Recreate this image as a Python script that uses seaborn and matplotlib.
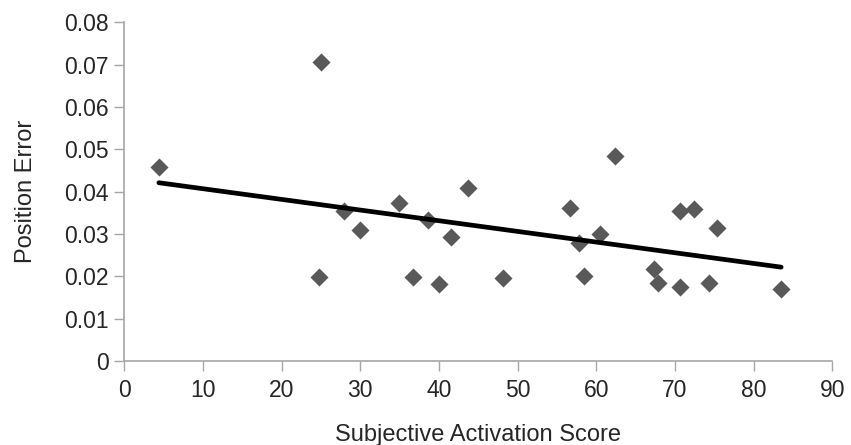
import matplotlib
matplotlib.use("Agg")
import matplotlib.pyplot as plt
import seaborn as sns
import pandas as pd
import numpy as np

# values
activation = [4.4, 25.0, 24.7, 27.9, 30.0, 34.9, 36.7, 38.6, 40.0, 41.5,
              43.7, 48.2, 56.7, 57.8, 58.4, 60.5, 62.4, 67.4, 67.9, 70.7,
              70.7, 72.4, 74.3, 75.4, 83.5]
pos_error = [0.0459, 0.0705, 0.0199, 0.0355, 0.0309, 0.0374, 0.0199, 0.0333,
             0.0181, 0.0292, 0.0409, 0.0195, 0.0361, 0.0278, 0.0201, 0.0299,
             0.0485, 0.0217, 0.0183, 0.0354, 0.0174, 0.0359, 0.0183, 0.0315,
             0.0169]
x_ticks = [0, 10, 20, 30, 40, 50, 60, 70, 80, 90]
y_ticks = [0, 0.01, 0.02, 0.03, 0.04, 0.05, 0.06, 0.07, 0.08]
y_tick_labels = ["0", "0.01", "0.02", "0.03", "0.04", "0.05", "0.06", "0.07", "0.08"]

df = pd.DataFrame({"Subjective Activation Score": activation,
                   "Position Error": pos_error})

sns.set_style("white")
plt.rcParams["font.family"] = ["Liberation Sans", "DejaVu Sans"]

fig = plt.figure(figsize=(8.51, 4.45), dpi=100)
ax = fig.add_axes([0.146, 0.189, 0.832, 0.761])

sns.scatterplot(data=df, x="Subjective Activation Score", y="Position Error",
                marker="D", s=85, color="#595959", linewidth=0, ax=ax, zorder=3)
sns.regplot(data=df, x="Subjective Activation Score", y="Position Error",
            scatter=False, ci=None, truncate=True, ax=ax,
            line_kws={"color": "black", "linewidth": 3.4, "zorder": 4})

ax.set_xlim(0, 90)
ax.set_ylim(0, 0.08)
ax.set_xticks(x_ticks)
ax.set_yticks(y_ticks)
ax.set_yticklabels(y_tick_labels)
ax.tick_params(axis="both", labelsize=16.5, length=7, width=1, color="#a6a6a6",
               direction="out", left=True, bottom=True, pad=4)
ax.tick_params(axis="x", pad=6)
ax.set_xlabel("Subjective Activation Score", fontsize=17, labelpad=16)
ax.set_ylabel("Position Error", fontsize=17, labelpad=20)

for side in ["top", "right"]:
    ax.spines[side].set_visible(False)
for side in ["left", "bottom"]:
    ax.spines[side].set_color("#a6a6a6")
    ax.spines[side].set_linewidth(1.2)

fig.savefig("out.png", dpi=100)
